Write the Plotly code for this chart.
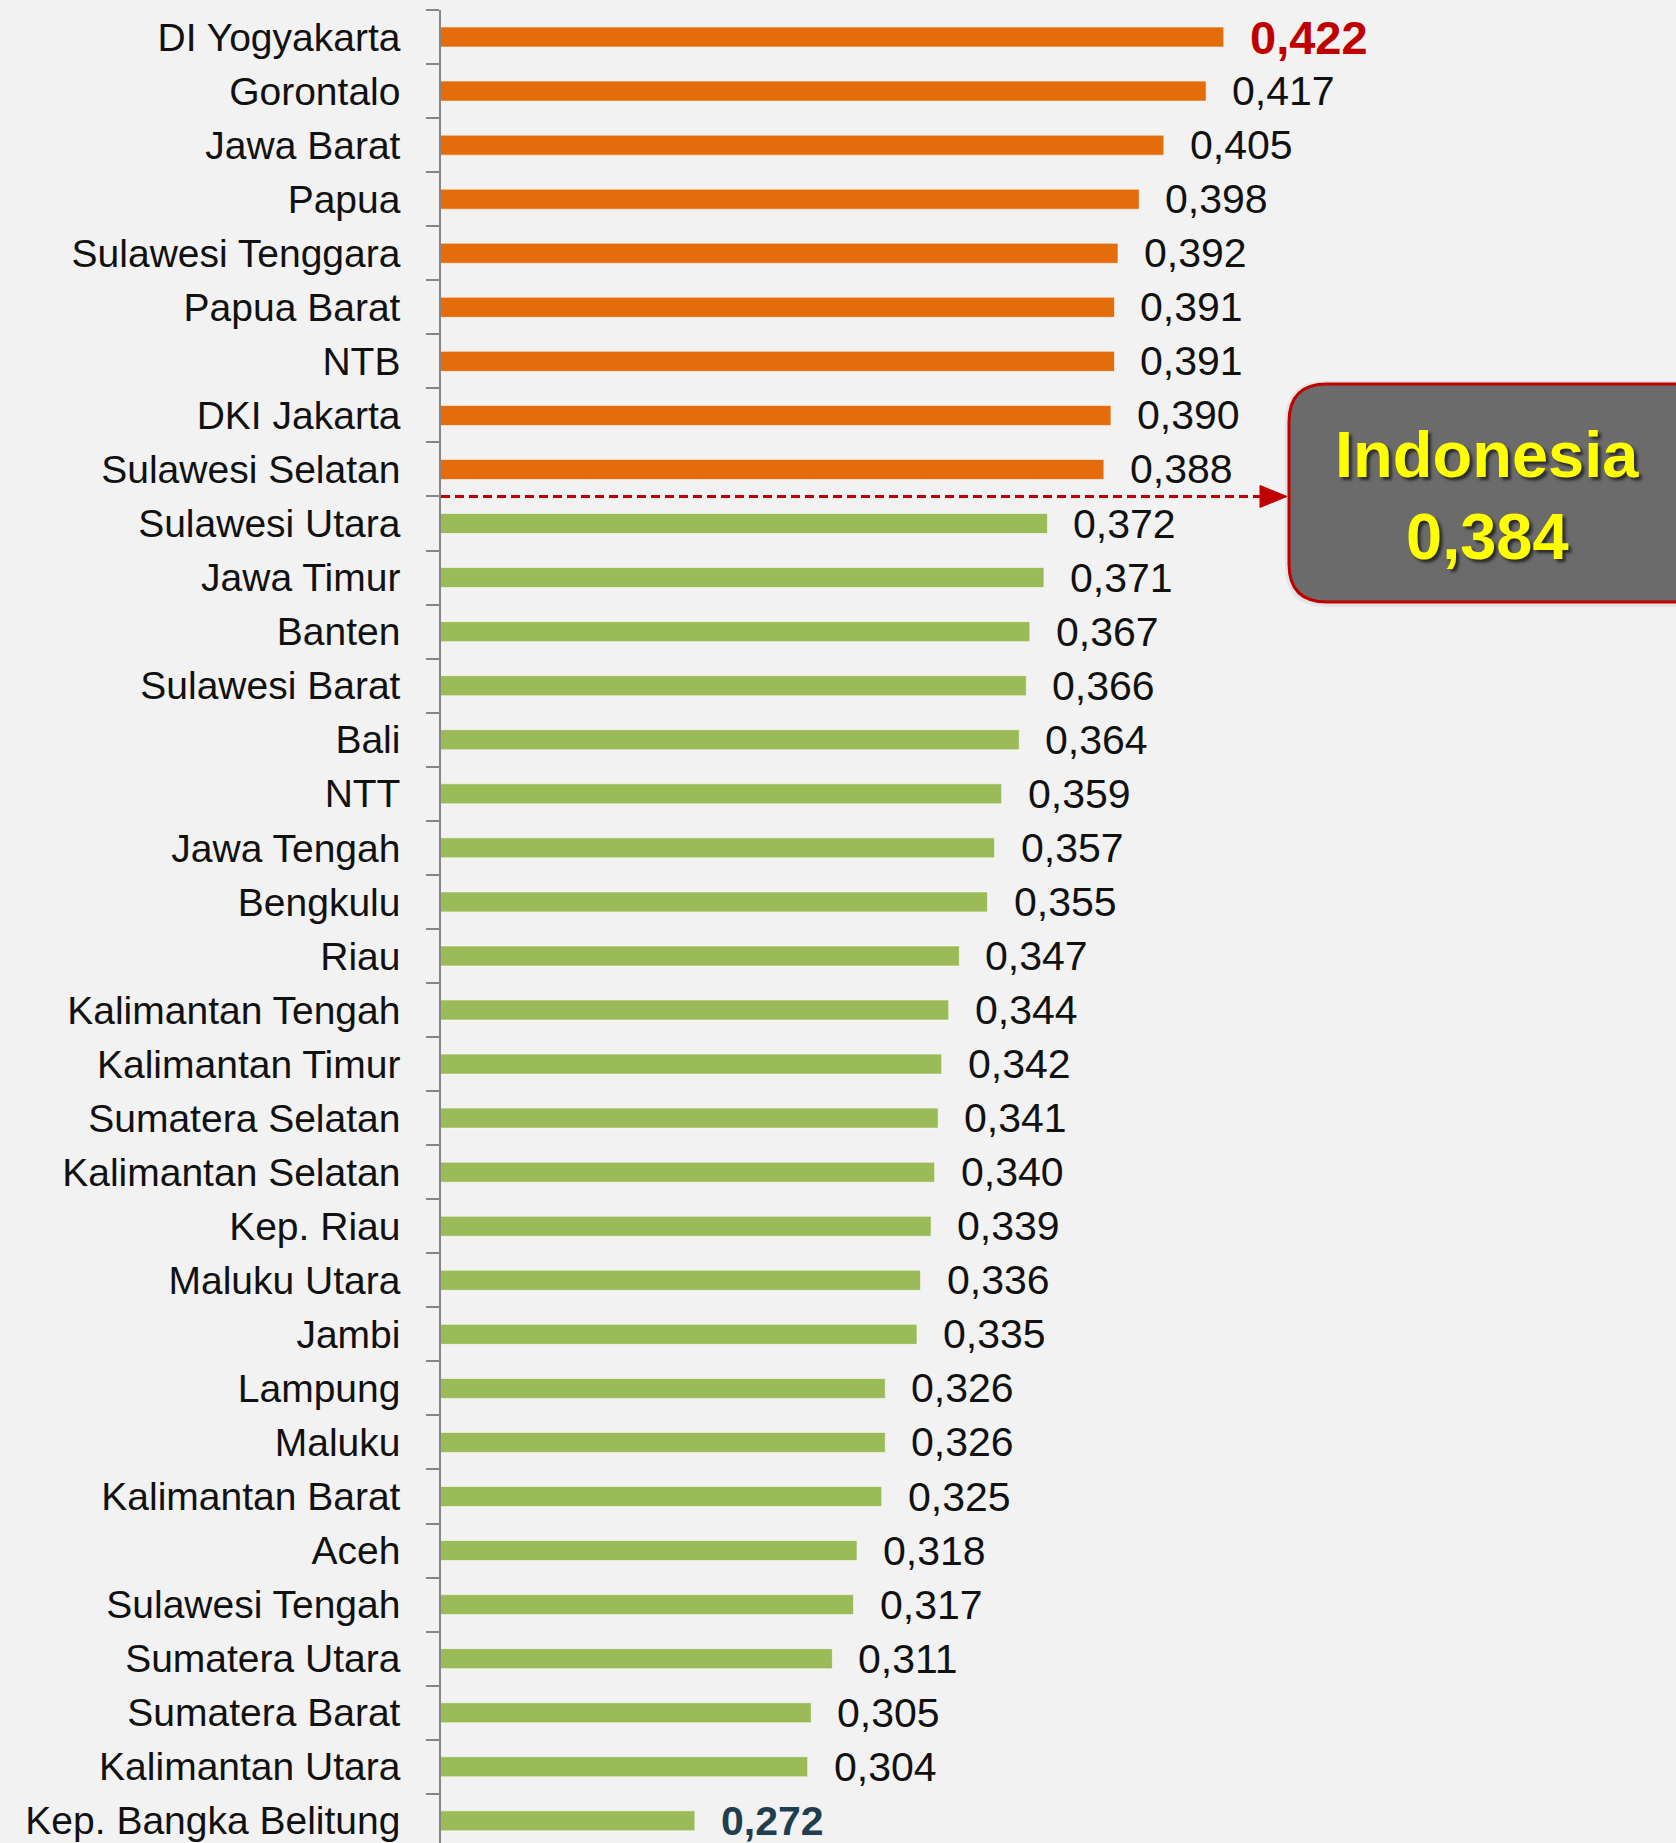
import plotly.graph_objects as go

# ---------------- data ----------------
provinces = [
    "DI Yogyakarta", "Gorontalo", "Jawa Barat", "Papua", "Sulawesi Tenggara",
    "Papua Barat", "NTB", "DKI Jakarta", "Sulawesi Selatan", "Sulawesi Utara",
    "Jawa Timur", "Banten", "Sulawesi Barat", "Bali", "NTT", "Jawa Tengah",
    "Bengkulu", "Riau", "Kalimantan Tengah", "Kalimantan Timur",
    "Sumatera Selatan", "Kalimantan Selatan", "Kep. Riau", "Maluku Utara",
    "Jambi", "Lampung", "Maluku", "Kalimantan Barat", "Aceh",
    "Sulawesi Tengah", "Sumatera Utara", "Sumatera Barat", "Kalimantan Utara",
    "Kep. Bangka Belitung",
]
gini = [
    0.422, 0.417, 0.405, 0.398, 0.392, 0.391, 0.391, 0.390, 0.388, 0.372,
    0.371, 0.367, 0.366, 0.364, 0.359, 0.357, 0.355, 0.347, 0.344, 0.342,
    0.341, 0.340, 0.339, 0.336, 0.335, 0.326, 0.326, 0.325, 0.318, 0.317,
    0.311, 0.305, 0.304, 0.272,
]
national_label = "Indonesia"
national_value = 0.384

# ---------------- styles ----------------
BG = "#f2f2f2"
ORANGE = "#E46C0A"
GREEN = "#9BBB59"
RED = "#C00000"
SANS = "Liberation Sans, Arial, sans-serif"

W, H = 1676, 1843
ML, MR, MT, MB = 441, 0, 10, 0
PLOT_W = W - ML - MR
PLOT_H = H - MT - MB
PPU = 3526.0          # pixels per unit on x
X_MIN = 0.2
X_MAX = X_MIN + PLOT_W / PPU
Y_BOTTOM = 33.41


def fmt(v):
    return f"{v:.3f}".replace(".", ",")


def px_x(px):
    return (px - ML) / PLOT_W


def px_y(py):
    return 1 - (py - MT) / PLOT_H


def x_data(px):
    return X_MIN + (px - ML) / PPU


colors = [ORANGE if v > national_value else GREEN for v in gini]

fig = go.Figure(
    go.Bar(
        x=gini,
        y=provinces,
        orientation="h",
        marker=dict(color=colors, line=dict(color="rgba(255,255,255,0.55)", width=1)),
        width=0.37,
        hoverinfo="skip",
    )
)

# value labels
imax = gini.index(max(gini))
imin = gini.index(min(gini))
for i, (p, v) in enumerate(zip(provinces, gini)):
    if i == imax:
        font = dict(family=SANS, size=47, color=RED, weight="bold")
    elif i == imin:
        font = dict(family=SANS, size=41, color="#1F3F4F", weight="bold")
    else:
        font = dict(family=SANS, size=41, color="#111111")
    fig.add_annotation(
        x=v, y=p, xref="x", yref="y", text=fmt(v), showarrow=False,
        xanchor="left", yanchor="middle", xshift=24, font=font,
    )

# dashed national reference line between above/below groups
n_above = sum(1 for v in gini if v > national_value)
y_sep = n_above - 0.5
fig.add_shape(
    type="line", xref="x", yref="y",
    x0=X_MIN, x1=x_data(1264), y0=y_sep, y1=y_sep,
    line=dict(color=RED, width=3, dash="9px,5px"),
)
# arrow head
y_sep_px = MT + (y_sep + 0.5) * PLOT_H / (Y_BOTTOM + 0.5)
tip, base, half = 1287, 1260, 11
fig.add_shape(
    type="path", xref="paper", yref="paper",
    path=(f"M {px_x(base)} {px_y(y_sep_px - half)} L {px_x(tip)} {px_y(y_sep_px)} "
          f"L {px_x(base)} {px_y(y_sep_px + half)} Z"),
    fillcolor=RED, line=dict(color=RED, width=1),
)

# soft shadow + rounded callout box
def rounded(L_, R_, T_, B_, r):
    return (
        f"M {px_x(L_ + r)} {px_y(T_)} L {px_x(R_ - r)} {px_y(T_)} "
        f"Q {px_x(R_)} {px_y(T_)} {px_x(R_)} {px_y(T_ + r)} "
        f"L {px_x(R_)} {px_y(B_ - r)} Q {px_x(R_)} {px_y(B_)} {px_x(R_ - r)} {px_y(B_)} "
        f"L {px_x(L_ + r)} {px_y(B_)} Q {px_x(L_)} {px_y(B_)} {px_x(L_)} {px_y(B_ - r)} "
        f"L {px_x(L_)} {px_y(T_ + r)} Q {px_x(L_)} {px_y(T_)} {px_x(L_ + r)} {px_y(T_)} Z"
    )

fig.add_shape(type="path", xref="paper", yref="paper",
              path=rounded(1285, 1724, 381, 607, 41),
              fillcolor="rgba(0,0,0,0.06)", line=dict(width=0))
fig.add_shape(type="path", xref="paper", yref="paper",
              path=rounded(1289, 1720, 384, 602, 38),
              fillcolor="#6b6b6b", line=dict(color=RED, width=3))

for txt, ypx in ((national_label, 455), (fmt(national_value), 537)):
    fig.add_annotation(
        xref="paper", yref="paper", x=px_x(1487), y=px_y(ypx),
        text=txt, showarrow=False, xanchor="center", yanchor="middle",
        font=dict(family=SANS, size=65, color="#FFFF00", weight="bold",
                  shadow="3px 3px 3px #2a2a2a"),
    )

fig.update_layout(
    width=W, height=H,
    margin=dict(l=ML, r=MR, t=MT, b=MB, pad=0),
    paper_bgcolor=BG, plot_bgcolor=BG,
    showlegend=False,
    xaxis=dict(range=[X_MIN, X_MAX], visible=False, showgrid=False, zeroline=False),
    yaxis=dict(
        type="category", categoryorder="array", categoryarray=provinces,
        range=[Y_BOTTOM, -0.5], autorange=False, dtick=1,
        showline=True, linecolor="#868686", linewidth=1.5,
        ticks="outside", tickson="boundaries", ticklen=13, tickcolor="#868686",
        tickwidth=1.5, showgrid=False, zeroline=False,
        ticklabelstandoff=31,
        tickfont=dict(family=SANS, size=39, color="#111111"),
    ),
)

fig.write_html("out.html", config={"displayModeBar": False},
               post_script="document.body.style.margin='0';")
